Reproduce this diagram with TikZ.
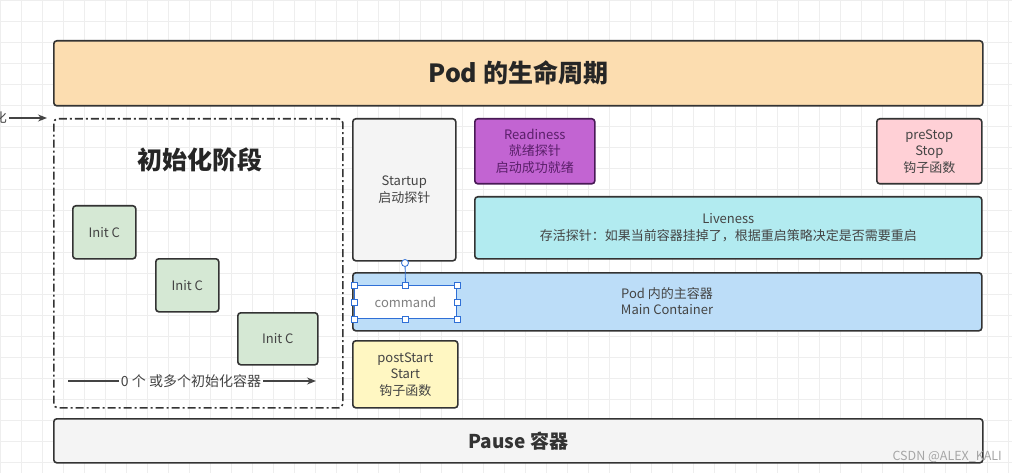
\documentclass[tikz,border=0pt]{standalone}
\usepackage{fontspec}
\setmainfont{Noto Sans CJK SC}
\usetikzlibrary{arrows.meta}
\definecolor{orangef}{HTML}{FCDDB0}
\definecolor{grayf}{HTML}{F4F4F4}
\definecolor{greenf}{HTML}{D5E8D4}
\definecolor{purplef}{HTML}{C264D2}
\definecolor{purplet}{HTML}{5A1F6A}
\definecolor{pinkf}{HTML}{FFD0D6}
\definecolor{cyanf}{HTML}{B2EBF0}
\definecolor{bluef}{HTML}{BCDDF8}
\definecolor{yellowf}{HTML}{FFF7C2}
\definecolor{bordc}{HTML}{333333}
\definecolor{textc}{HTML}{444444}
\definecolor{selc}{HTML}{2F6FD6}
\definecolor{gridc}{HTML}{EEEEEE}
\tikzset{
  box/.style={draw=bordc, line width=1.6pt, rounded corners=3pt, text=textc, align=center, font=\fontsize{13}{16.5}\selectfont},
  handle/.style={draw=selc, fill=white, line width=0.8pt},
}
\begin{document}
\begin{tikzpicture}[x=1pt,y=-1pt]
\useasboundingbox (0,0) rectangle (1012,473);
\fill[white] (0,0) rectangle (1012,473);
\foreach \gx in {0,21,...,1012} \draw[gridc, line width=0.5pt] (\gx,0) -- (\gx,473);
\foreach \gy in {0,21,...,473} \draw[gridc, line width=0.5pt] (0,\gy) -- (1012,\gy);
% title
\node[box, fill=orangef, minimum width=929pt, minimum height=65pt, anchor=north west, font=\fontsize{25}{28}\selectfont\bfseries, text=black!85] (title) at (53,40) {Pod 的生命周期};
% left arrow
\begin{scope}
\clip (0,100) rectangle (60,140);
\node[anchor=east, inner sep=0pt, font=\fontsize{13}{15}\selectfont, text=textc] (hua) at (7,118) {化};
\end{scope}
\coordinate (arrend) at (47,118);
\draw[-{Stealth[length=9pt,width=7pt]}, line width=1.3pt, textc] (hua.east) ++(2,0) -- (arrend);
% init stage
\node[draw=bordc, line width=1.6pt, dash pattern=on 8pt off 3pt on 2pt off 3pt, rounded corners=4pt, minimum width=289pt, minimum height=289pt, anchor=north west] (initbox) at (53,118) {};
\node[font=\fontsize{25}{28}\selectfont\bfseries, text=black!85] (inittitle) at (200,160) {初始化阶段};
\node[box, fill=greenf, minimum width=63pt, minimum height=53pt, anchor=north west] (i1) at (72,205) {Init C};
\node[box, fill=greenf, minimum width=63pt, minimum height=53pt, anchor=north west] (i2) at (155,258) {Init C};
\node[box, fill=greenf, minimum width=80pt, minimum height=52pt, anchor=north west] (i3) at (237,312) {Init C};
\node[text=textc, font=\fontsize{14}{16}\selectfont, inner sep=2pt] (zero) at (191,381) {0 个 或多个初始化容器};
\coordinate (zs) at (68,381);
\coordinate (ze) at (316,381);
\draw[line width=1.3pt, textc] (zs) -- (zero.west);
\draw[line width=1.3pt, textc, -{Stealth[length=9pt,width=7pt]}] (zero.east) -- (ze);
% probes
\node[box, fill=grayf, minimum width=103pt, minimum height=142pt, anchor=north west] (startup) at (352,118) {Startup\\启动探针};
\node[box, fill=purplef, draw=purplet!80!black, text=purplet, minimum width=120pt, minimum height=65pt, anchor=north west] (ready) at (474,118) {Readiness\\就绪探针\\启动成功就绪};
\node[box, fill=pinkf, minimum width=105pt, minimum height=65pt, anchor=north west] (prestop) at (876,118) {preStop\\Stop\\钩子函数};
\node[box, fill=cyanf, minimum width=507pt, minimum height=62pt, anchor=north west] (live) at (474,196) {Liveness\\存活探针：如果当前容器挂掉了，根据重启策略决定是否需要重启};
\node[box, fill=bluef, minimum width=629pt, minimum height=58pt, anchor=north west] (main) at (352,272) {};
\node[text=textc, align=center, font=\fontsize{13}{16.5}\selectfont] (maintext) at (667,301) {Pod 内的主容器\\Main Container};
% command (selected)
\node[draw=selc, fill=white, line width=1pt, minimum width=102pt, minimum height=33pt, anchor=north west, text=gray, font=\fontsize{13}{15}\selectfont] (cmd) at (354,285) {command};
\coordinate (rot) at (405,263);
\draw[selc, line width=0.8pt] (cmd.north) -- (rot);
\foreach \p in {north west,north,north east,west,east,south west,south,south east}
  \draw[handle] (cmd.\p) ++(-3,-3) rectangle ++(6,6);
\draw[handle] (rot) circle (3.5pt);
\node[box, fill=yellowf, minimum width=105pt, minimum height=67pt, anchor=north west] (post) at (352,340) {postStart\\Start\\钩子函数};
% pause
\node[box, fill=grayf, minimum width=929pt, minimum height=44pt, anchor=north west, font=\fontsize{19}{22}\selectfont\bfseries, text=black!80] (pause) at (53,418) {Pause 容器};
\node[text=gray!70, font=\fontsize{12.5}{14}\selectfont, anchor=east, inner sep=0pt] (wm) at (1002,457) {CSDN @ALEX\_KALI};
\end{tikzpicture}
\end{document}
